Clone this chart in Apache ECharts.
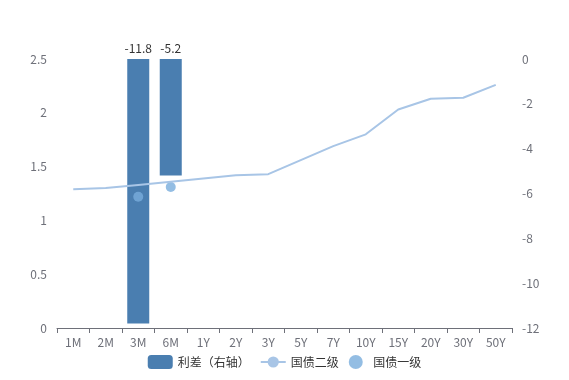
<!DOCTYPE html>
<html><head><meta charset="utf-8">
<script src="https://cdn.jsdelivr.net/npm/echarts@6/dist/echarts.min.js"></script>
<style>html,body{margin:0;padding:0;background:#fff}#c{width:569px;height:380px}</style>
</head><body><div id="c"></div>
<script>
var categories = ['1M','2M','3M','6M','1Y','2Y','3Y','5Y','7Y','10Y','15Y','20Y','30Y','50Y'];
var spread = [null, null, -11.8, -5.2, null, null, null, null, null, null, null, null, null, null];
var secondary = [1.29, 1.30, 1.33, 1.36, 1.39, 1.42, 1.43, 1.56, 1.69, 1.80, 2.03, 2.13, 2.14, 2.26];
var primary = [null, null, 1.22, 1.31, null, null, null, null, null, null, null, null, null, null];
var leftTicks = [0, 2.5, 0.5];
var rightTicks = [-12, 0, 2];

var chart = echarts.init(document.getElementById('c'), null, {renderer:'canvas'});
var font = "'Microsoft YaHei','Noto Sans CJK SC',sans-serif";
chart.setOption({
  animation:false,
  textStyle:{fontFamily:font},
  grid:{left:57, right:57, top:59, bottom:52},
  legend:{
    bottom:6, itemGap:10, itemWidth:25, itemHeight:14,
    textStyle:{color:'#333', fontSize:12, fontFamily:font},
    data:[{name:'利差（右轴）'},{name:'国债二级'},{name:'国债一级'}]
  },
  xAxis:{
    type:'category', data:categories, boundaryGap:true,
    axisLine:{lineStyle:{color:'#6e7079'}},
    axisTick:{show:true, alignWithLabel:false, lineStyle:{color:'#6e7079'}},
    axisLabel:{color:'#6e7079', fontSize:12, interval:0, margin:8}
  },
  yAxis:[{
    type:'value', min:leftTicks[0], max:leftTicks[1], interval:leftTicks[2],
    axisLine:{show:false}, axisTick:{show:false}, splitLine:{show:false},
    axisLabel:{color:'#6e7079', fontSize:12, margin:10}
  },{
    type:'value', min:rightTicks[0], max:rightTicks[1], interval:rightTicks[2],
    axisLine:{show:false}, axisTick:{show:false}, splitLine:{show:false},
    axisLabel:{color:'#6e7079', fontSize:12, margin:10}
  }],
  series:[{
    name:'利差（右轴）', type:'bar', yAxisIndex:1, data:spread, barWidth:22,
    itemStyle:{color:'#4a7eb0'},
    label:{show:true, position:'top', color:'#333', fontSize:12, distance:5}
  },{
    name:'国债二级', type:'line', yAxisIndex:0, data:secondary,
    symbol:'circle', symbolSize:6, showSymbol:false,
    lineStyle:{color:'#a8c5e6', width:2}, itemStyle:{color:'#a8c5e6'}
  },{
    name:'国债一级', type:'scatter', yAxisIndex:0, data:primary,
    symbolSize:10, itemStyle:{color:'#78acdc'}
  }]
});
</script></body></html>
